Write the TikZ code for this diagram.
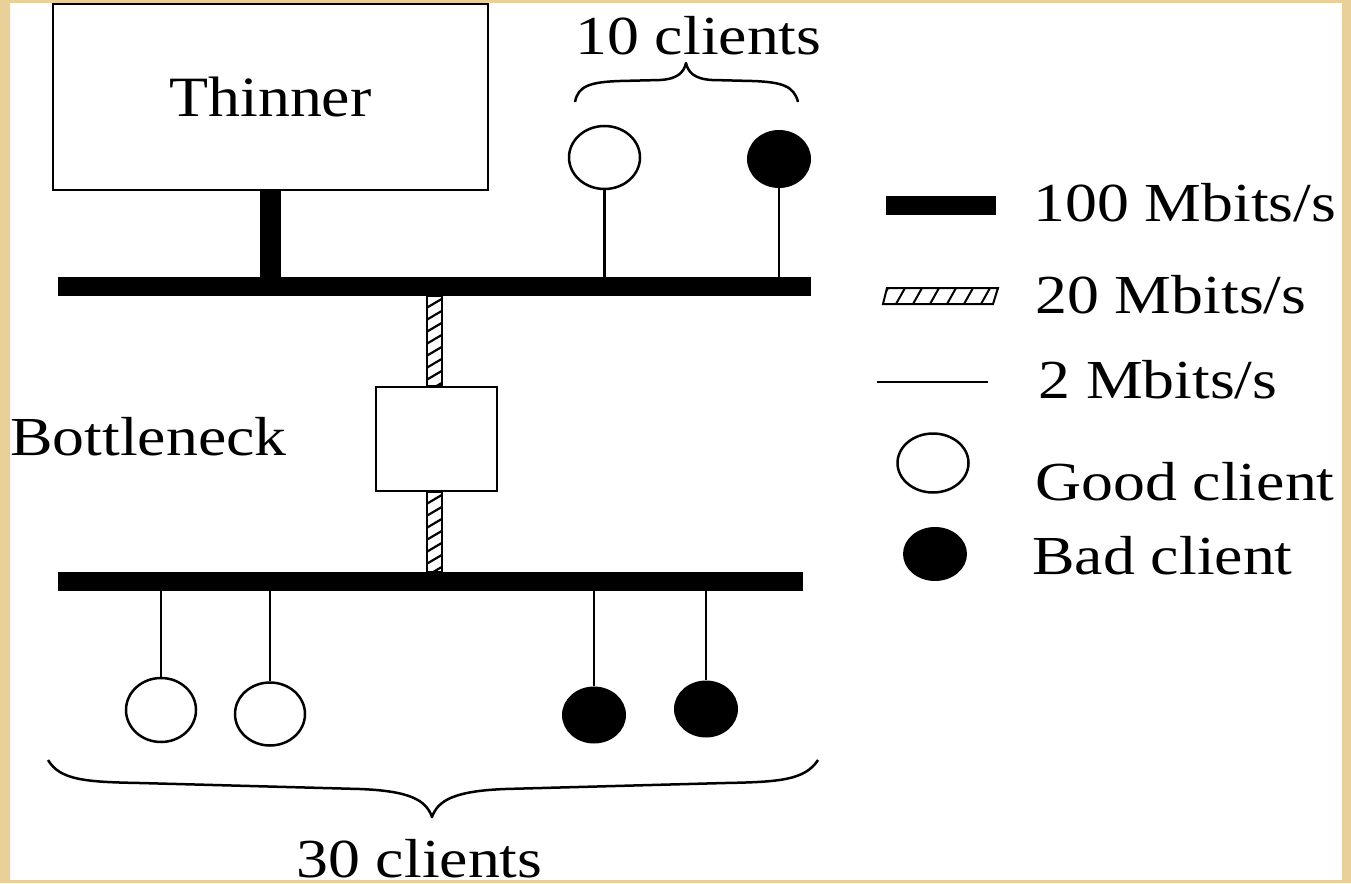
\documentclass[tikz,border=0pt]{standalone}
\usepackage{fontspec}
\setmainfont{Liberation Serif}
\usepackage{graphicx}
\usetikzlibrary{shapes.geometric,calc}
\definecolor{parch}{RGB}{233,207,152}
\newcommand{\sx}[1]{\scalebox{1.16}[1]{#1}}
\begin{document}
\begin{tikzpicture}[x=1pt,y=-1pt,
  txt/.style={inner sep=0pt, anchor=base west, font=\fontsize{55}{60}\selectfont},
  box/.style={draw, line width=2.5pt, fill=white, inner sep=0pt},
  bus/.style={fill=black, inner sep=0pt, minimum height=19pt},
  good/.style={ellipse, draw, line width=2.5pt, fill=white, inner sep=0pt},
  bad/.style={ellipse, fill=black, inner sep=0pt},
  wire/.style={line width=2.5pt},
  fat/.style={line width=21pt},
  vh/.style={draw, line width=2.2pt, fill=white,
    path picture={\foreach \i in {-2,...,10} \draw[line width=2.2pt] ($(path picture bounding box.north west)+(-1,\i*12)$) -- ++(17,-10);}},
  lh/.style={draw, line width=2pt, fill=white,
    path picture={\foreach \i in {0,...,8} \draw[line width=2pt] ($(path picture bounding box.south west)+(\i*17-4,0)$) -- ++(9,-16);}},
  brace/.style={line width=2.5pt, line join=round}
]
\useasboundingbox (0,0) rectangle (1351,883);
\fill[white] (0,0) rectangle (1351,883);

% Thinner box and buses
\node[box, minimum width=435pt, minimum height=186pt, font=\fontsize{57}{60}\selectfont] (th) at (270.5,97) {\scalebox{1.12}[1]{Thinner}};
\node[bus, minimum width=753pt] (top) at (434.5,286.5) {};
\node[bus, minimum width=745pt] (bot) at (430.5,581.5) {};
\node[box, minimum width=121pt, minimum height=104pt] (bn) at (436.5,439) {};

\draw[fat] (th.south) -- (th.south |- top.north);

% hatched 20 Mbit/s links
\coordinate (hx) at (434.5,0);
\draw[vh] ($(hx |- top.south)+(-7.5,0)$) rectangle ($(hx |- bn.north)+(7.5,0)$);
\draw[vh] ($(hx |- bn.south)+(-7.5,0)$) rectangle ($(hx |- bot.north)+(7.5,0)$);

% top clients
\node[good, minimum width=71pt, minimum height=63pt] (tg1) at (604.5,157.5) {};
\node[bad, minimum width=64pt, minimum height=58pt] (tb1) at (779,159) {};
\draw[wire] (tg1.south) -- (tg1.south |- top.north);
\draw[wire] (tb1.south) -- (tb1.south |- top.north);

% bottom clients
\node[good, minimum width=70pt, minimum height=64pt] (bg1) at (161,710) {};
\node[good, minimum width=70pt, minimum height=63pt] (bg2) at (270,714) {};
\node[bad, minimum width=64pt, minimum height=57pt] (bb1) at (594,715) {};
\node[bad, minimum width=64pt, minimum height=57pt] (bb2) at (706,709) {};
\foreach \n in {bg1,bg2,bb1,bb2} \draw[wire] (\n.north) -- (\n.north |- bot.south);

% braces
\draw[brace] (575,102) .. controls (578,86) and (590,82) .. (620,81) -- (660,80) .. controls (678,79) and (684,72) .. (686,63) .. controls (688,72) and (694,79) .. (712,80) -- (752,81) .. controls (782,82) and (794,86) .. (798,102);
\draw[brace] (48,760) .. controls (60,780) and (85,782) .. (140,783) -- (360,789) .. controls (410,791) and (426,800) .. (432,817) .. controls (438,800) and (455,791) .. (505,789) -- (725,783) .. controls (780,782) and (805,780) .. (818,760);

% labels
\node[txt] (l10) at (575,55) {\sx{10 clients}};
\node[txt] (l30) at (296,877) {\sx{30 clients}};
\node[txt] (lbn) at (10,455) {\sx{Bottleneck}};

% legend
\fill (886,196) rectangle (996,215);
\draw[lh] (887,288) -- (998,288) -- (993,304) -- (883,304) -- cycle;
\draw[wire] (877,382) -- (988,382);
\node[good, minimum width=71pt, minimum height=59pt] (lg) at (933,463) {};
\node[bad, minimum width=64pt, minimum height=54pt] (lb) at (935,554) {};
\node[txt] (t100) at (1033,221) {\sx{100 Mbits/s}};
\node[txt] (t20) at (1035,313) {\sx{20 Mbits/s}};
\node[txt] (t2) at (1038,398) {\sx{2 Mbits/s}};
\node[txt] (tg) at (1035,500) {\sx{Good client}};
\node[txt] (tb) at (1032,574) {\sx{Bad client}};

% parchment frame
\fill[parch, even odd rule] (0,0) rectangle (1351,883) (10,3) rectangle (1342,880);
\end{tikzpicture}
\end{document}
